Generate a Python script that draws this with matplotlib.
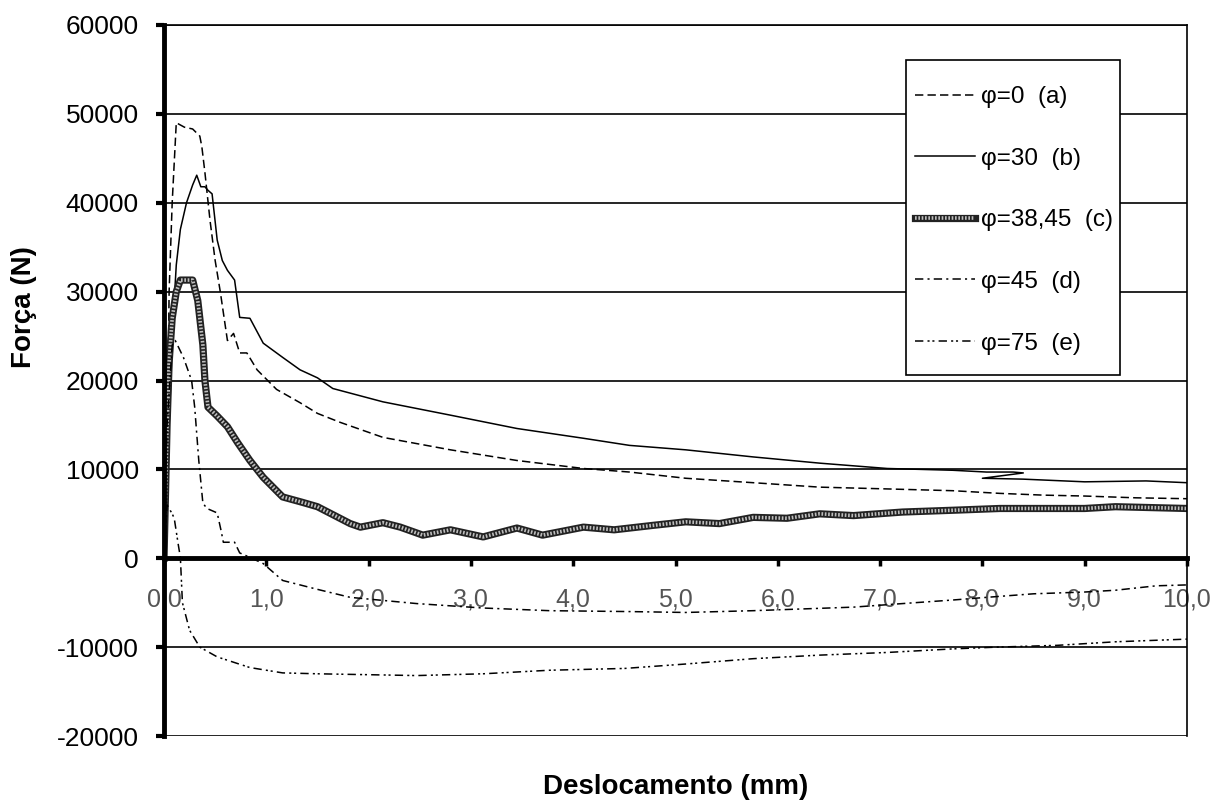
import matplotlib
matplotlib.use("Agg")
import matplotlib.pyplot as plt
from matplotlib.ticker import FixedLocator
from matplotlib.patches import Rectangle

plt.rcParams['font.family'] = ['Liberation Sans', 'DejaVu Sans']
plt.rcParams['lines.scale_dashes'] = False

# ---- data ----
a_x = [0, 0.03, 0.05, 0.08, 0.12, 0.2, 0.28, 0.35, 0.37, 0.40, 0.45, 0.50, 0.55, 0.62, 0.68, 0.74, 0.81,
       0.91, 1.1, 1.33, 1.5, 1.72, 2.14, 2.8, 3.45, 4.1, 4.55, 5.1, 5.76, 6.41, 7.07, 7.71, 8.17, 8.6,
       9.0, 9.5, 10.0]
a_y = [0, 10000, 30000, 40000, 49000, 48500, 48300, 47500, 46300, 43400, 38000, 33500, 30000, 24500,
       25300, 23100, 23100, 21200, 19000, 17500, 16300, 15300, 13600, 12200, 11000, 10100, 9700, 9000,
       8500, 8000, 7800, 7600, 7300, 7100, 7000, 6800, 6700]

b_x = [0, 0.02, 0.05, 0.09, 0.12, 0.16, 0.22, 0.28, 0.32, 0.36, 0.40, 0.43, 0.47, 0.52, 0.57, 0.62,
       0.69, 0.74, 0.84, 0.97, 1.16, 1.33, 1.5, 1.65, 2.14, 2.8, 3.45, 4.1, 4.55, 5.1, 5.76, 6.41,
       7.07, 7.71, 8.04, 8.3, 8.4, 8.0, 8.4, 9.0, 9.6, 10.0]
b_y = [0, 0, 15000, 27000, 33000, 37000, 40000, 42000, 43100, 41800, 41800, 41400, 41000, 35800,
       33500, 32400, 31300, 27100, 27000, 24200, 22600, 21200, 20300, 19100, 17600, 16100, 14600,
       13500, 12700, 12200, 11400, 10700, 10100, 9900, 9700, 9700, 9600, 9000, 8900, 8600, 8700, 8500]

c_x = [0, 0.03, 0.05, 0.08, 0.12, 0.16, 0.28, 0.33, 0.38, 0.40, 0.43, 0.52, 0.62, 0.72, 0.84, 0.97,
       1.16, 1.35, 1.5, 1.82, 1.92, 2.14, 2.31, 2.53, 2.8, 3.12, 3.45, 3.7, 4.1, 4.4, 4.78, 5.1, 5.43,
       5.76, 6.09, 6.41, 6.74, 7.22, 7.71, 8.17, 9.0, 9.3, 10.0]
c_y = [0, 15000, 22000, 27000, 30000, 31300, 31300, 29000, 24000, 20000, 17000, 16000, 14800, 13000,
       11000, 9100, 6900, 6300, 5800, 3900, 3500, 4000, 3500, 2600, 3200, 2400, 3400, 2600, 3500, 3200,
       3700, 4100, 3900, 4600, 4500, 5000, 4800, 5200, 5400, 5600, 5600, 5800, 5600]

d_x = [0, 0.03, 0.08, 0.11, 0.19, 0.27, 0.30, 0.34, 0.38, 0.42, 0.52, 0.56, 0.58, 0.69, 0.74, 0.84,
       0.97, 1.04, 1.16, 1.5, 1.82, 2.47, 3.12, 3.77, 4.55, 5.1, 5.76, 6.25, 6.74, 7.22, 7.71, 8.04,
       8.5, 9.0, 9.3, 9.7, 10.0]
d_y = [0, 15000, 24000, 24500, 22600, 20000, 17000, 11000, 6200, 5600, 5100, 3000, 1800, 1800, 600,
       100, -600, -1300, -2500, -3500, -4400, -5100, -5600, -5900, -6000, -6100, -5900, -5700, -5500,
       -5100, -4700, -4400, -4000, -3800, -3600, -3100, -3000]

e_x = [0, 0.03, 0.08, 0.10, 0.14, 0.16, 0.18, 0.25, 0.35, 0.52, 0.84, 1.16, 1.5, 2.47, 3.12, 3.77,
       4.5, 5.1, 5.76, 6.41, 7.07, 7.71, 8.14, 8.73, 9.3, 10.0]
e_y = [0, 6000, 5000, 4500, 1500, 100, -5000, -8100, -10000, -11100, -12300, -12900, -13000, -13200,
       -13000, -12600, -12400, -11900, -11300, -10900, -10600, -10200, -10000, -9800, -9400, -9100]

labels = ['φ=0  (a)', 'φ=30  (b)', 'φ=38,45  (c)', 'φ=45  (d)', 'φ=75  (e)']
x_ticks = [0, 1, 2, 3, 4, 5, 6, 7, 8, 9, 10]
x_ticklabels = ['0,0', '1,0', '2,0', '3,0', '4,0', '5,0', '6,0', '7,0', '8,0', '9,0', '10,0']
y_ticks = [-20000, -10000, 0, 10000, 20000, 30000, 40000, 50000, 60000]

# ---- figure ----
W, H = 1219, 805
fig = plt.figure(figsize=(W/100, H/100), dpi=100)
ax = fig.add_axes([164/W, 1-736/H, (1187-164)/W, (736-25)/H])

ax.set_xlim(0, 10)
ax.set_ylim(-20000, 60000)

ax.spines['bottom'].set_position(('data', 0))
ax.spines['bottom'].set_linewidth(3.5)
ax.spines['left'].set_linewidth(3.5)
ax.spines['top'].set_linewidth(1.2)
ax.spines['right'].set_linewidth(1.2)

ax.yaxis.set_major_locator(FixedLocator(y_ticks))
ax.set_yticklabels([str(v) for v in y_ticks])
ax.grid(axis='y', color='black', linewidth=1.2)
ax.set_axisbelow(True)

ax.set_xticks(x_ticks)
ax.set_xticklabels(x_ticklabels)
ax.tick_params(axis='x', direction='out', length=6, width=2.5, pad=15,
               labelsize=18, labelcolor='#555555')
ax.tick_params(axis='y', direction='out', length=6, width=3, pad=12, labelsize=19)

thin = 1.1
la, = ax.plot(a_x, a_y, color='black', lw=thin, linestyle=(0, (6, 3)))
lb, = ax.plot(b_x, b_y, color='black', lw=thin, linestyle='-')
lc1, = ax.plot(c_x, c_y, color='#222222', lw=5.2, solid_joinstyle='round')
lc2, = ax.plot(c_x, c_y, color='#bdbdbd', lw=2.6, linestyle=(0, (1.2, 1.2)))
ld, = ax.plot(d_x, d_y, color='black', lw=thin, linestyle=(0, (6, 3, 1.5, 3)))
le, = ax.plot(e_x, e_y, color='black', lw=thin, linestyle=(0, (6, 3, 1.5, 2, 1.5, 3)))

ax.set_ylabel('Força (N)', fontsize=20, fontweight='bold')
ax.yaxis.set_label_coords(-0.124, 0.603)
ax.set_xlabel('Deslocamento (mm)', fontsize=20, fontweight='bold')
ax.xaxis.set_label_coords(0.5, -0.053)

# legend frame drawn as a rectangle in figure pixels
ax.add_patch(Rectangle((906/W, 1-375/H), (1120-906)/W, (375-60)/H,
                       transform=fig.transFigure, facecolor='white',
                       edgecolor='black', linewidth=1.2, zorder=5, clip_on=False))
leg = ax.legend([la, lb, (lc1, lc2), ld, le], labels,
                loc='upper left', bbox_to_anchor=(915/W, 1-86/H),
                bbox_transform=fig.transFigure, fontsize=17.5, frameon=False,
                handlelength=2.45, handletextpad=0.25, labelspacing=1.63,
                borderpad=0, borderaxespad=0)
leg.set_zorder(6)

fig.savefig('out.png', dpi=100)
